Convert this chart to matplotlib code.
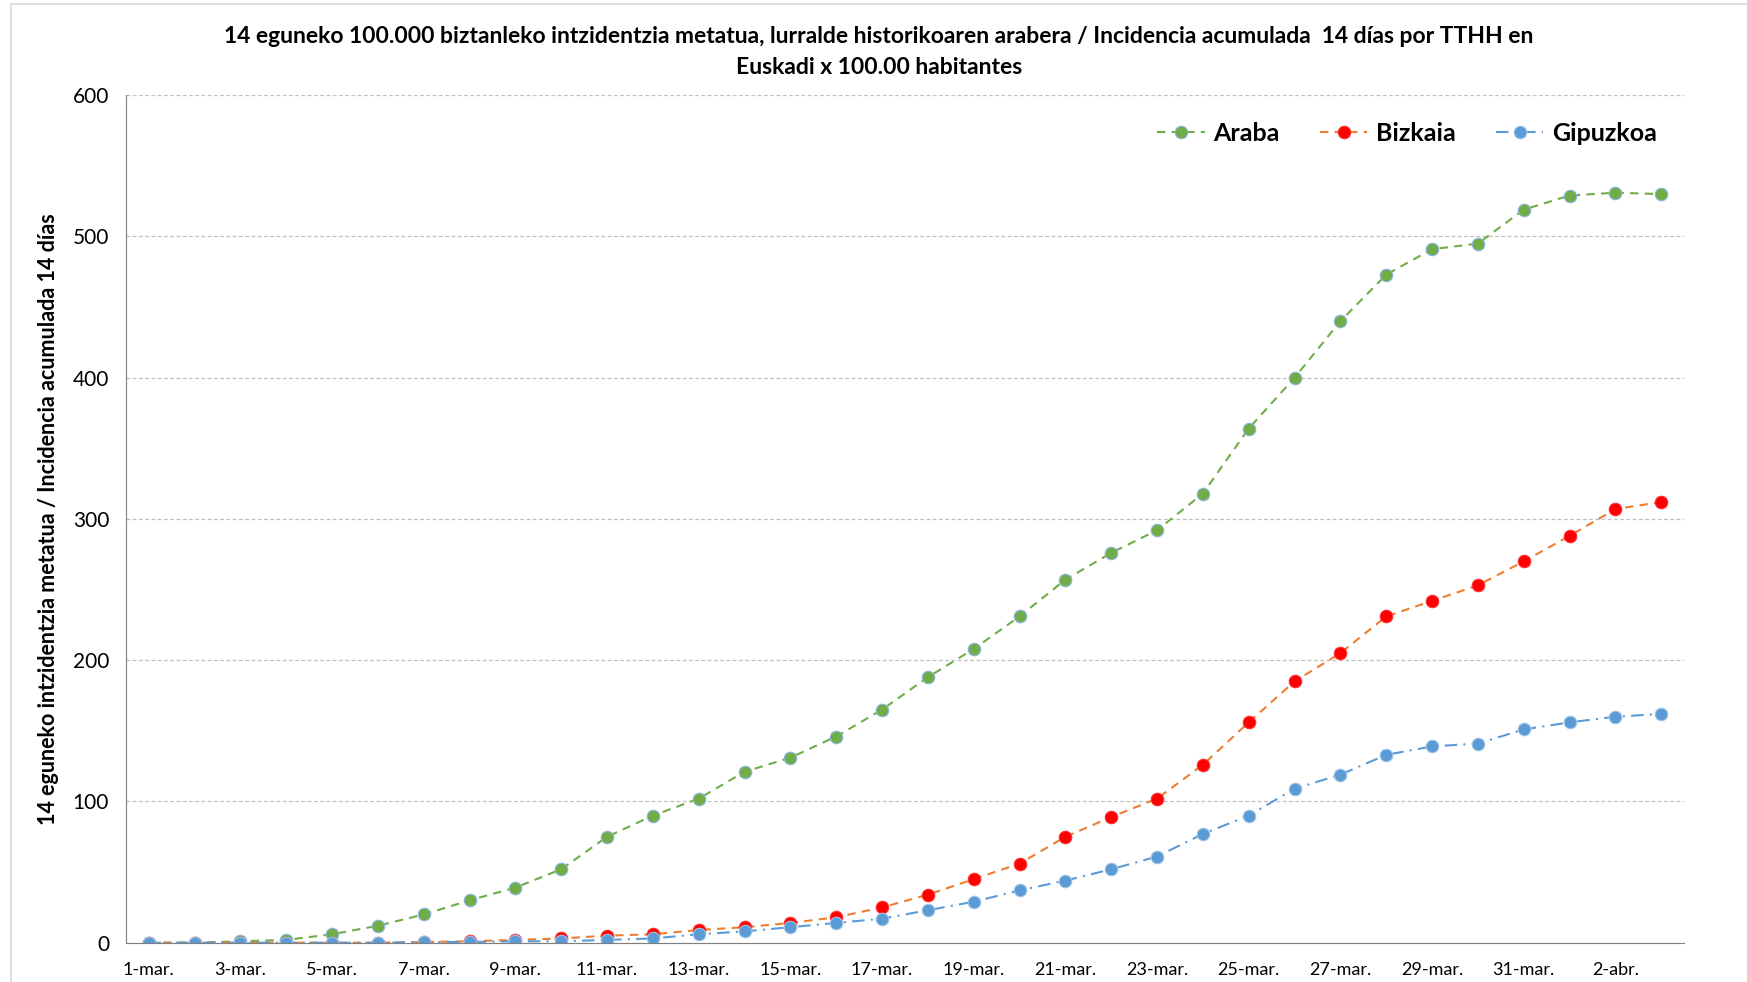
import matplotlib.pyplot as plt
from matplotlib.patches import Rectangle

plt.rcParams['font.family'] = ['Lato', 'DejaVu Sans']

# dates 1-mar .. 3-abr
dates = [f'{d}-mar.' for d in range(1, 32)] + [f'{d}-abr.' for d in range(1, 4)]

araba = [0, 0, 1, 2, 6, 12, 20, 30, 39, 52, 75, 90, 102, 121, 131, 146, 165, 188,
         208, 231, 257, 276, 292, 318, 364, 400, 440, 473, 491, 495, 519, 529, 531, 530]
bizkaia = [0, 0, 0, 0, 0, 0, 0.5, 1, 2, 3, 5, 6, 9, 11, 14, 18, 25, 34,
           45, 56, 75, 89, 102, 126, 156, 185, 205, 231, 242, 253, 270, 288, 307, 312]
gipuzkoa = [0, 0, 0, 0, 0, 0, 0.5, 0.5, 1, 1, 2, 3, 6, 8, 11, 14, 17, 23,
            29, 37, 44, 52, 61, 77, 90, 109, 119, 133, 139, 141, 151, 156, 160, 162]

fig = plt.figure(figsize=(17.47, 9.82), dpi=100)
ax = fig.add_axes([0.072, 0.04, 0.892, 0.863])

x = list(range(len(dates)))
ax.plot(x, araba, color='#70AD47', linestyle=(0, (4, 3)), linewidth=1.5,
        marker='o', markersize=9, markerfacecolor='#70AD47',
        markeredgecolor='#8DB4E2', markeredgewidth=0.8, label='Araba')
ax.plot(x, bizkaia, color='#ED7D31', linestyle=(0, (4, 3)), linewidth=1.5,
        marker='o', markersize=9, markerfacecolor='#FF0000',
        markeredgecolor='#FF3030', markeredgewidth=0.8, label='Bizkaia')
ax.plot(x, gipuzkoa, color='#5B9BD5', linestyle=(0, (6, 3, 1, 3)), linewidth=1.5,
        marker='o', markersize=9, markerfacecolor='#5B9BD5',
        markeredgecolor='#9DC3E6', markeredgewidth=0.8, label='Gipuzkoa')

ax.set_xlim(-0.5, len(dates) - 0.5)
ax.set_ylim(0, 600)
ax.set_yticks(range(0, 601, 100))
ax.set_xticks(x[::2])
ax.set_xticklabels(dates[::2], fontsize=13)
ax.tick_params(axis='y', labelsize=15, length=0, pad=12)
ax.tick_params(axis='x', length=0, pad=14)

ax.grid(axis='y', color='#BFBFBF', linestyle=(0, (3, 2)), linewidth=0.9)
ax.set_axisbelow(True)
for s in ['top', 'right']:
    ax.spines[s].set_visible(False)
ax.spines['left'].set_color('#7F7F7F')
ax.spines['bottom'].set_color('#7F7F7F')

ax.set_ylabel('14 eguneko intzidentzia metatua / Incidencia acumulada 14 días',
              fontsize=15.5, fontweight='bold', labelpad=10)
fig.text(0.503, 0.947, '14 eguneko 100.000 biztanleko intzidentzia metatua, lurralde historikoaren arabera / '
         'Incidencia acumulada  14 días por TTHH en\nEuskadi x 100.00 habitantes',
         ha='center', va='center', fontsize=16.5, fontweight='bold', linespacing=1.6)

ax.legend(loc='upper right', bbox_to_anchor=(0.997, 0.995), ncol=3, frameon=False,
          prop={'size': 18, 'weight': 'bold'}, handlelength=1.9, columnspacing=1.6,
          handletextpad=0.35)

fig.patches.append(Rectangle((0.0065, -0.01), 1.0, 1.006, transform=fig.transFigure,
                             fill=False, edgecolor='#D9D9D9', linewidth=1.2))

fig.savefig('out.png', dpi=100)
